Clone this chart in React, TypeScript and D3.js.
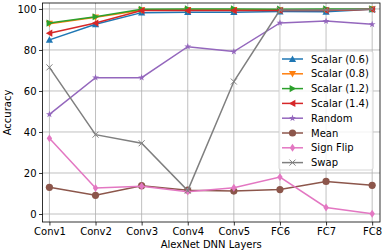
import React, { useRef, useEffect } from "react";
import * as d3 from "d3";

const layers = ["Conv1", "Conv2", "Conv3", "Conv4", "Conv5", "FC6", "FC7", "FC8"];
const yTicks = [0, 20, 40, 60, 80, 100];

const scalar06 = [84.9, 92.5, 98.2, 98.4, 98.4, 98.7, 98.6, 99.8];
const scalar08 = [92.8, 95.9, 99.4, 99.5, 99.5, 99.4, 99.5, 99.9];
const scalar12 = [93.1, 96.2, 99.8, 100, 100, 99.9, 100, 100];
const scalar14 = [88.2, 93.1, 99.2, 99.2, 99.2, 99.3, 99.3, 99.8];
const random = [48.6, 66.5, 66.5, 81.6, 79.2, 93.2, 94.1, 92.5];
const mean = [13.0, 9.1, 13.8, 11.6, 11.2, 11.9, 15.9, 14.0];
const signFlip = [36.9, 12.7, 13.5, 10.9, 12.8, 18.0, 3.2, 0.1];
const swap = [71.5, 38.7, 34.5, 11.4, 64.6, 99.5, 99.5, 100];

const series = [
  { name: "Scalar (0.6)", values: scalar06, color: "#1f77b4", marker: "up" },
  { name: "Scalar (0.8)", values: scalar08, color: "#ff7f0e", marker: "down" },
  { name: "Scalar (1.2)", values: scalar12, color: "#2ca02c", marker: "right" },
  { name: "Scalar (1.4)", values: scalar14, color: "#d62728", marker: "left" },
  { name: "Random", values: random, color: "#9467bd", marker: "star" },
  { name: "Mean", values: mean, color: "#8c564b", marker: "circle" },
  { name: "Sign Flip", values: signFlip, color: "#e377c2", marker: "diamond" },
  { name: "Swap", values: swap, color: "#7f7f7f", marker: "x" },
];

const W = 385;
const H = 252;
const font = "DejaVu Sans, sans-serif";

function drawMarker(g: any, kind: string, x: number, y: number, color: string) {
  const r = 3.6;
  if (kind === "circle") {
    g.append("circle").attr("cx", x).attr("cy", y).attr("r", r).attr("fill", color);
    return;
  }
  if (kind === "x") {
    const s = 3;
    g.append("path")
      .attr("d", `M${x - s},${y - s}L${x + s},${y + s}M${x - s},${y + s}L${x + s},${y - s}`)
      .attr("stroke", color)
      .attr("stroke-width", 1)
      .attr("fill", "none");
    return;
  }
  let pts: [number, number][] = [];
  if (kind === "up") pts = [[0, -r], [r, r * 0.8], [-r, r * 0.8]];
  if (kind === "down") pts = [[0, r], [r, -r * 0.8], [-r, -r * 0.8]];
  if (kind === "right") pts = [[r, 0], [-r * 0.8, r], [-r * 0.8, -r]];
  if (kind === "left") pts = [[-r, 0], [r * 0.8, r], [r * 0.8, -r]];
  if (kind === "diamond") pts = [[0, -r * 1.1], [r * 0.75, 0], [0, r * 1.1], [-r * 0.75, 0]];
  if (kind === "star") {
    for (let i = 0; i < 10; i++) {
      const a = (Math.PI / 5) * i - Math.PI / 2;
      const rr = i % 2 === 0 ? r : r * 0.4;
      pts.push([Math.cos(a) * rr, Math.sin(a) * rr]);
    }
  }
  g.append("path")
    .attr("d", "M" + pts.map((p) => `${x + p[0]},${y + p[1]}`).join("L") + "Z")
    .attr("fill", color);
}

const App = () => {
  const ref = useRef<SVGSVGElement>(null);

  useEffect(() => {
    const svg = d3.select(ref.current);
    svg.selectAll("*").remove();

    const left = 42.5;
    const right = 380;
    const top = 3;
    const bottom = 222;

    const x = d3.scaleLinear().domain([-0.15, 7.17]).range([left, right]);
    const y = d3.scaleLinear().domain([-3.9, 102.9]).range([bottom, top]);

    // Grid
    const grid = svg.append("g").attr("stroke", "#b0b0b0").attr("stroke-width", 0.8);
    layers.forEach((_, i) => {
      grid.append("line").attr("x1", x(i)).attr("x2", x(i)).attr("y1", top).attr("y2", bottom);
    });
    yTicks.forEach((t) => {
      grid.append("line").attr("x1", left).attr("x2", right).attr("y1", y(t)).attr("y2", y(t));
    });

    // Lines + markers
    series.forEach((s) => {
      const line = d3
        .line<number>()
        .x((_, i) => x(i))
        .y((d) => y(d));
      svg
        .append("path")
        .datum(s.values)
        .attr("d", line)
        .attr("fill", "none")
        .attr("stroke", s.color)
        .attr("stroke-width", 1.5);
      const mg = svg.append("g");
      s.values.forEach((v, i) => drawMarker(mg, s.marker, x(i), y(v), s.color));
    });

    // X Axis
    const xAxis = svg
      .append("g")
      .attr("transform", `translate(0,${bottom})`)
      .call(
        d3
          .axisBottom(x)
          .tickValues(layers.map((_, i) => i))
          .tickFormat((d: any) => layers[d])
          .tickSize(3.5)
          .tickPadding(2.5)
      );
    xAxis.select(".domain").remove();
    xAxis.selectAll("text").attr("font-size", 10).attr("font-family", font).attr("fill", "#000");
    xAxis.selectAll("line").attr("stroke", "#000").attr("stroke-width", 0.8);

    // Y Axis
    const yAxis = svg
      .append("g")
      .attr("transform", `translate(${left},0)`)
      .call(d3.axisLeft(y).tickValues(yTicks).tickSize(3.5).tickPadding(2.5));
    yAxis.select(".domain").remove();
    yAxis.selectAll("text").attr("font-size", 10).attr("font-family", font).attr("fill", "#000");
    yAxis.selectAll("line").attr("stroke", "#000").attr("stroke-width", 0.8);

    // Frame
    svg
      .append("rect")
      .attr("x", left)
      .attr("y", top)
      .attr("width", right - left)
      .attr("height", bottom - top)
      .attr("fill", "none")
      .attr("stroke", "#000")
      .attr("stroke-width", 0.8);

    // Axis labels
    svg
      .append("text")
      .attr("x", (left + right) / 2)
      .attr("y", 248)
      .attr("text-anchor", "middle")
      .attr("font-size", 10)
      .attr("font-family", font)
      .text("AlexNet DNN Layers");
    svg
      .append("text")
      .attr("transform", `translate(11,${(top + bottom) / 2}) rotate(-90)`)
      .attr("text-anchor", "middle")
      .attr("font-size", 10)
      .attr("font-family", font)
      .text("Accuracy");

    // Legend
    const lx = 279;
    const ly = 51;
    const lg = svg.append("g");
    lg.append("rect")
      .attr("x", lx)
      .attr("y", ly)
      .attr("width", 94)
      .attr("height", 119)
      .attr("rx", 2)
      .attr("fill", "#fff")
      .attr("fill-opacity", 0.8)
      .attr("stroke", "#cccccc")
      .attr("stroke-width", 0.8);
    series.forEach((s, i) => {
      const yy = ly + 8 + i * 14.8;
      lg.append("line")
        .attr("x1", lx + 3)
        .attr("x2", lx + 24)
        .attr("y1", yy)
        .attr("y2", yy)
        .attr("stroke", s.color)
        .attr("stroke-width", 1.5);
      drawMarker(lg, s.marker, lx + 13.5, yy, s.color);
      lg.append("text")
        .attr("x", lx + 32)
        .attr("y", yy)
        .attr("dy", "0.35em")
        .attr("font-size", 10)
        .attr("font-family", font)
        .text(s.name);
    });
  }, []);

  return <svg ref={ref} width={W} height={H} style={{ position: "absolute", left: 0, top: 0 }} />;
};

export default App;
